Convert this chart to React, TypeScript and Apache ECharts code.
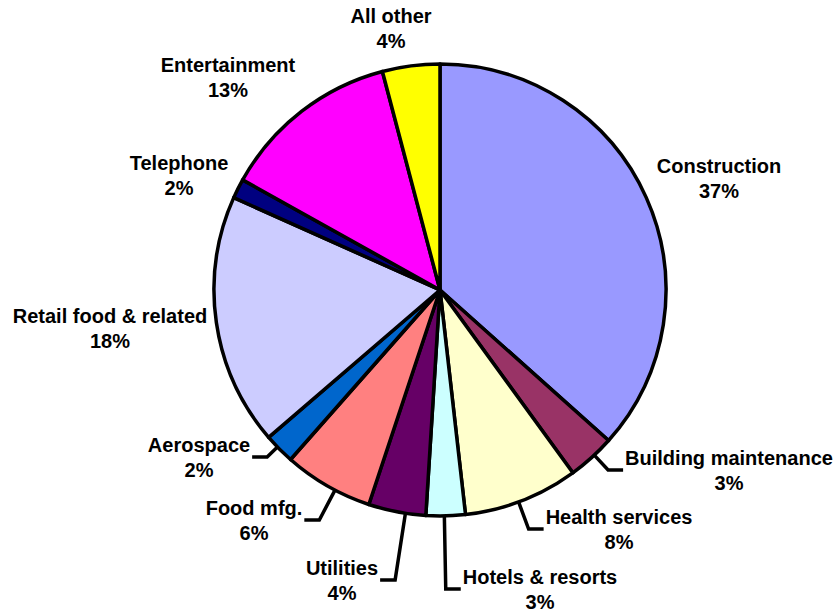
import React, { useEffect, useRef } from "react";
import * as echarts from "echarts";

// Data
const categories = [
  "Construction",
  "Building maintenance",
  "Health services",
  "Hotels & resorts",
  "Utilities",
  "Food mfg.",
  "Aerospace",
  "Retail food & related",
  "Telephone",
  "Entertainment",
  "All other",
];
const shares = [36.6, 3.4, 8.2, 2.8, 4.1, 6.4, 2.2, 18.0, 1.4, 12.8, 4.1];
const percentLabels = [37, 3, 8, 3, 4, 6, 2, 18, 2, 13, 4];

// Styling / layout (kept separate from data)
const colors = [
  "#9999FF",
  "#993366",
  "#FFFFCC",
  "#CCFFFF",
  "#660066",
  "#FF8080",
  "#0066CC",
  "#CCCCFF",
  "#000080",
  "#FF00FF",
  "#FFFF00",
];
const hasLeader = [false, true, true, true, true, true, true, false, false, false, false];
const labelCenters: [number, number][] = [
  [719, 178],
  [729, 470],
  [619, 529],
  [540, 589],
  [342, 580],
  [254, 520],
  [199, 457],
  [110, 328],
  [179, 175],
  [228, 77],
  [391, 28],
];
const CX = 440;
const CY = 290;
const R = 226;
const LEADER_H = 15;
const LEADER_GAP = 2;

export default function App() {
  const ref = useRef<HTMLDivElement>(null);
  useEffect(() => {
    if (!ref.current) return;
    const chart = echarts.init(ref.current, null, { renderer: "svg" });
    const data = categories.map((name, i) => ({
      name,
      value: shares[i],
      itemStyle: { color: colors[i] },
      labelLine: { show: hasLeader[i] },
    }));
    chart.setOption({
      animation: false,
      backgroundColor: "#ffffff",
      series: [
        {
          type: "pie",
          center: [CX, CY],
          radius: [0, R],
          startAngle: 90,
          clockwise: true,
          avoidLabelOverlap: false,
          silent: true,
          emphasis: { disabled: true },
          itemStyle: { borderColor: "#000000", borderWidth: 3.5 },
          label: {
            show: true,
            position: "outside",
            color: "#000000",
            fontFamily: "'Liberation Sans', Arial, sans-serif",
            fontWeight: "bold",
            fontSize: 20,
            lineHeight: 25,
            formatter: (p: any) => `${p.name}\n${percentLabels[p.dataIndex]}%`,
          },
          labelLine: {
            show: true,
            length: 10,
            length2: LEADER_H,
            smooth: false,
            lineStyle: { color: "#000000", width: 3.5 },
          },
          labelLayout: (params: any) => {
            const i = params.dataIndex;
            const c = labelCenters[i];
            const out: any = { x: c[0], y: c[1], align: "center", verticalAlign: "middle" };
            if (hasLeader[i]) {
              const w = params.labelRect.width;
              const onRight = c[0] > CX;
              const ax = onRight ? c[0] - w / 2 - LEADER_GAP : c[0] + w / 2 + LEADER_GAP;
              const ay = c[1];
              const px = onRight ? ax - LEADER_H : ax + LEADER_H;
              const py = ay;
              const dx = px - CX;
              const dy = py - CY;
              const d = Math.sqrt(dx * dx + dy * dy);
              const ex = CX + (dx / d) * R;
              const ey = CY + (dy / d) * R;
              out.labelLinePoints = [
                [ex, ey],
                [px, py],
                [ax, ay],
              ];
            }
            return out;
          },
          data,
        },
      ],
    });
    return () => chart.dispose();
  }, []);
  return (
    <div
      ref={ref}
      style={{ position: "absolute", left: 0, top: 0, width: 838, height: 614, background: "#fff" }}
    />
  );
}
